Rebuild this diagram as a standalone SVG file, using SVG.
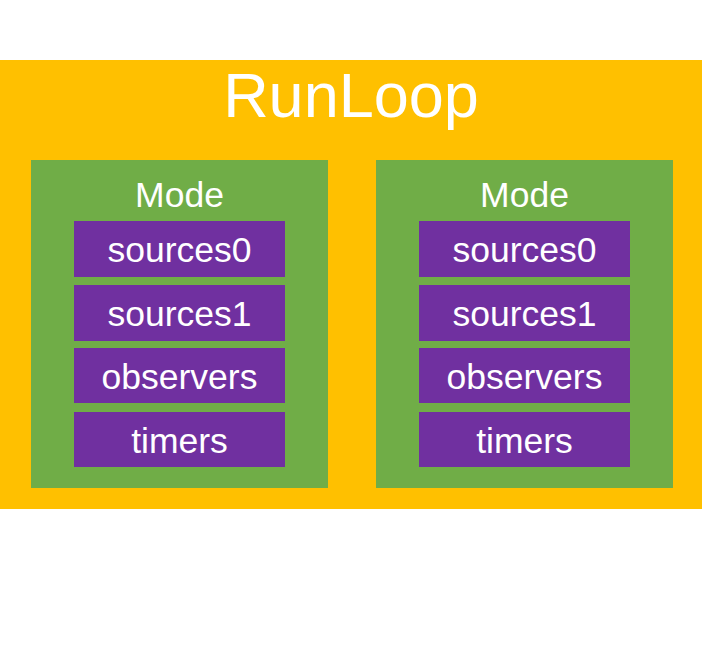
<svg xmlns="http://www.w3.org/2000/svg" width="702" height="648" viewBox="0 0 702 648">
<style>
.t{fill:#fff;font-family:"Liberation Sans",Arial,Helvetica,sans-serif;text-anchor:middle}
.mode{fill:#70AD47}
.item{fill:#7030A0}
.lbl{font-size:35.5px}
.mt{font-size:35.5px}
</style>
<rect width="702" height="648" fill="#fff"/>
<g id="runloop">
<rect x="0" y="60" width="702" height="449" fill="#FFC000"/>
<text class="t" x="351" y="117" font-size="63">RunLoop</text>
</g>
<g id="mode1">
<rect class="mode" x="31" y="160" width="297" height="328"/>
<text class="t mt" x="179.5" y="207">Mode</text>
</g>
<g id="m1-sources0"><rect class="item" x="74" y="221" width="211" height="56"/><text class="t lbl" x="179.5" y="262">sources0</text></g>
<g id="m1-sources1"><rect class="item" x="74" y="285" width="211" height="56"/><text class="t lbl" x="179.5" y="326">sources1</text></g>
<g id="m1-observers"><rect class="item" x="74" y="348" width="211" height="55"/><text class="t lbl" x="179.5" y="389">observers</text></g>
<g id="m1-timers"><rect class="item" x="74" y="412" width="211" height="55"/><text class="t lbl" x="179.5" y="453">timers</text></g>
<g id="mode2">
<rect class="mode" x="376" y="160" width="297" height="328"/>
<text class="t mt" x="524.5" y="207">Mode</text>
</g>
<g id="m2-sources0"><rect class="item" x="419" y="221" width="211" height="56"/><text class="t lbl" x="524.5" y="262">sources0</text></g>
<g id="m2-sources1"><rect class="item" x="419" y="285" width="211" height="56"/><text class="t lbl" x="524.5" y="326">sources1</text></g>
<g id="m2-observers"><rect class="item" x="419" y="348" width="211" height="55"/><text class="t lbl" x="524.5" y="389">observers</text></g>
<g id="m2-timers"><rect class="item" x="419" y="412" width="211" height="55"/><text class="t lbl" x="524.5" y="453">timers</text></g>
<g id="connectors"/>
</svg>
